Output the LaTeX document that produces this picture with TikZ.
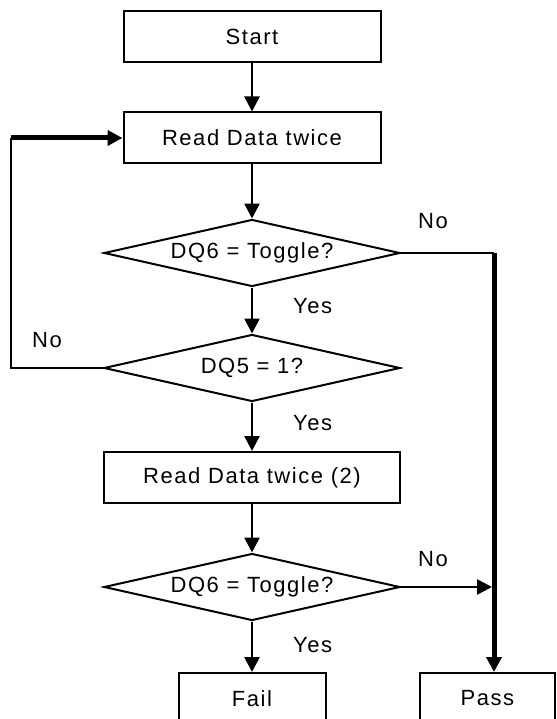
\documentclass[tikz,border=0pt]{standalone}
\usepackage{fontspec}
\newfontfamily\flowfont[LetterSpace=7]{Liberation Sans}
\usetikzlibrary{positioning}
\usetikzlibrary{shapes.geometric}
\usetikzlibrary{arrows.meta}
\usetikzlibrary{calc}
\tikzset{>={Triangle[length=15pt,width=15pt]}}
\tikzset{blk/.style={draw,line width=2pt,minimum width=257pt,minimum height=51pt,inner sep=0pt}}
\tikzset{decide/.style={draw,diamond,line width=2pt,shape aspect=4.4,minimum width=296pt,minimum height=67pt,inner sep=0pt}}
\tikzset{lbl/.style={inner sep=0pt}}
\tikzset{cn/.style={line width=2.6pt}}
\tikzset{thk/.style={line width=5pt}}

\begin{document}
\begin{tikzpicture}[on grid,x=1pt,y=-1pt,font=\flowfont\fontsize{22}{26}\selectfont]
        \useasboundingbox (0,0) rectangle (556,719);

        \node[blk] (start) at (252,37) {Start};
        \node[blk, below=101pt of start] (read) {Read Data twice};
        \node[decide, below=115pt of read] (tog1) {DQ6 = Toggle?};
        \node[decide, below=115pt of tog1] (dq5) {DQ5 = 1?};
        \node[blk, below=109.5pt of dq5, minimum width=296pt] (read2) {Read Data twice (2)};
        \node[decide, below=109.5pt of read2] (tog2) {DQ6 = Toggle?};
        \node[blk, below=111.5pt of tog2, minimum width=147pt] (fail) {Fail};
        \node[blk, right=235.5pt of fail, minimum width=135pt] (pass) {Pass};

        \node[lbl, above right=24pt and 17pt of tog1.east] (no1) {No};
        \node[lbl, below right=11pt and 41pt of tog1.south] (yes1) {Yes};
        \node[lbl, above left=20pt and 41pt of dq5.west] (no2) {No};
        \node[lbl, below right=13pt and 41pt of dq5.south] (yes2) {Yes};
        \node[lbl, above right=20pt and 17pt of tog2.east] (no3) {No};
        \node[lbl, below right=16pt and 41pt of tog2.south] (yes3) {Yes};

        \coordinate[right=93pt of tog1.east] (rtop);
        \coordinate (rmid) at (rtop |- tog2.east);
        \coordinate (rbot) at (rtop |- pass.north);
        \coordinate[left=92pt of dq5.west] (lcor);
        \coordinate (ltop) at (lcor |- read.west);

        \draw [cn,->] (start) -- (read);
        \draw [cn,->] (read) -- (tog1);
        \draw [cn,->] (tog1) -- (dq5);
        \draw [cn,->] (dq5) -- (read2);
        \draw [cn,->] (read2) -- (tog2);
        \draw [cn,->] (tog2) -- (fail);

        \draw [cn] (tog1.east) -- (rtop);
        \draw [thk,->] (rtop) -- (rbot);
        \draw [cn,->,shorten >=2pt] (tog2.east) -- (rmid);

        \draw [cn] (dq5.west) -- (lcor) -- (ltop);
        \draw [thk,->] (ltop) -- (read.west);
    \end{tikzpicture}
\end{document}
